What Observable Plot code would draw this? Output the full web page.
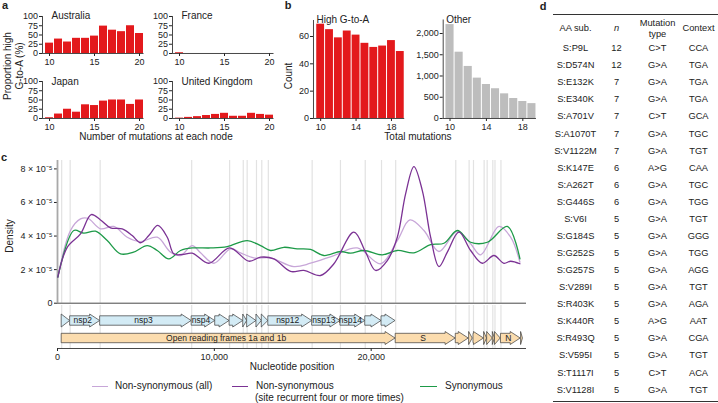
<!DOCTYPE html>
<html><head><meta charset="utf-8">
<script src="https://cdn.jsdelivr.net/npm/d3@7"></script>
<script src="https://cdn.jsdelivr.net/npm/@observablehq/plot@0.6"></script>
<style>
body{margin:0;background:#fff;}
#fig{position:relative;width:718px;height:403px;overflow:hidden;font-family:"Liberation Sans",Arial,sans-serif;color:#222;background:#fff;}
.lbl{position:absolute;width:0;height:0;}
.lbl>span{position:absolute;left:0;top:0;white-space:nowrap;line-height:1.15;text-align:center;transform:translate(-50%,-50%);}
.lbl.rot>span{transform:translate(-50%,-50%) rotate(-90deg);}
.lbl.start>span{transform:translate(0,-50%);text-align:left;}
.rule{position:absolute;height:0;border-top:1px solid #333;}
.sw{position:absolute;height:0;border-top:1.6px solid;}
</style>
</head><body><div id="fig"></div>
<script>
// ---------- data ----------
// panel a
const nodeMutations = [10,11,12,13,14,15,16,17,18,19,20];
const pctAustralia = [28,39,31,41,41,47,74,63,59,75,54];
const pctFrance = [2,0,0,0,0,0,0,0,0,0,0];
const pctJapan = [2,12,25,17,37,35,47,50,50,38,50];
const pctUK = [1,3,5,8,11,14,6,6,14,11,9];
// panel b
const totalMutations = [10,11,12,13,14,15,16,17,18,19];
const countHighGtoA = [69,65,59,64,61,55,52,53,57,49];
const countOther = [2210,1560,1225,950,800,700,580,470,400,350];
// panel c : density (units of 1e-5) along genome position (nt)
const genomeLength = 29903;
const densNonsynAll = [[20,1.55],[829,4.33],[1467,5.02],[1932,5.06],[2743,4.43],[3591,4.57],[4445,3.93],[5294,3.67],[6359,3.93],[7207,3.04],[7845,2.84],[8591,3.43],[9121,3.0],[9969,2.38],[11034,3.24],[11672,3.0],[12520,2.7],[13585,2.7],[15071,2.18],[16136,2.38],[17623,2.84],[19115,3.29],[20601,2.35],[21666,3.73],[22469,4.96],[23363,4.33],[24320,3.08],[25493,4.29],[26341,3.54],[26979,2.88],[28146,4.57],[28892,3.93],[29485,2.44]];
const densNonsynRecurrent = [[20,1.55],[619,3.33],[1467,4.13],[2149,5.28],[2743,4.96],[3380,4.49],[4127,4.43],[4764,4.03],[5294,3.6],[5823,4.03],[6397,4.63],[6997,3.93],[7418,2.94],[7953,2.9],[8591,2.98],[9650,2.38],[10970,3.3],[12201,2.5],[12947,2.74],[13795,2.64],[14861,1.89],[15709,1.95],[16774,1.65],[17623,2.35],[18898,4.23],[19644,3.04],[20282,1.95],[21028,2.54],[21666,3.93],[22195,6.51],[22725,8.14],[23261,6.71],[23790,3.93],[24320,2.18],[24855,3.04],[25595,4.23],[26341,3.14],[27087,2.38],[27827,2.84],[28465,2.38],[28892,2.5],[29485,2.35]];
const densSynonymous = [[20,1.55],[1040,4.33],[1677,4.17],[2424,4.29],[3170,3.73],[4018,2.94],[4847,3.04],[5721,3.43],[6359,3.14],[7099,2.64],[7845,3.14],[8591,3.29],[9758,3.29],[10823,3.37],[12099,3.73],[12947,3.43],[13585,3.14],[14434,3.33],[15288,3.24],[16136,3.2],[16985,2.84],[18050,3.08],[18688,2.98],[19536,3.14],[20709,2.88],[21666,3.14],[22725,3.0],[23790,3.49],[24639,3.57],[25493,4.33],[26341,3.63],[27406,3.63],[28682,4.57],[29485,2.64]];
const boundaryLines = [266,806,2720,8555,10973,11843,12092,12686,13025,13442,16237,18040,19621,20659,21563,25393,26245,26523,27202,27394,27756,27894,28274];
const nspStart = [266,806,2720,8555,10055,10973,11843,12092,12686,13025,13442,16237,18040,19621,20659];
const nspEnd   = [805,2719,8554,10054,10972,11842,12091,12685,13024,13441,16236,18039,19620,20658,21552];
const nspLabel = ["","nsp2","nsp3","nsp4","","","","","","","nsp12","nsp13","nsp14","",""];
const orfStart = [266,21563,25393,26245,26523,27202,27394,27756,27894,28274,29558];
const orfEnd   = [21555,25384,26220,26472,27191,27387,27759,27887,28259,29533,29674];
const orfLabel = ["Open reading frames 1a and 1b","S","","","","","","","","N",""];
// panel d
const tableCols = ["AA sub.","n","Mutation\ntype","Context"];
const aaSub = ["S:P9L","S:D574N","S:E132K","S:E340K","S:A701V","S:A1070T","S:V1122M","S:K147E","S:A262T","S:G446S","S:V6I","S:G184S","S:G252S","S:G257S","S:V289I","S:R403K","S:K440R","S:R493Q","S:V595I","S:T1117I","S:V1128I"];
const nRecurrent = [12,12,7,7,7,7,7,6,6,6,5,5,5,5,5,5,5,5,5,5,5];
const mutType = ["C>T","G>A","G>A","G>A","C>T","G>A","G>A","A>G","G>A","G>A","G>A","G>A","G>A","G>A","G>A","G>A","A>G","G>A","G>A","C>T","G>A"];
const seqContext = ["CCA","TGA","TGA","TGA","GCA","TGC","TGT","CAA","TGC","TGG","TGT","GGG","TGG","AGG","TGT","AGA","AAT","CGA","TGT","ACA","TGT"];

// ---------- helpers ----------
const fig = document.getElementById("fig");
const FONT = '"Liberation Sans", Arial, sans-serif';
const baseStyle = {fontFamily: FONT, fontSize: "9px", color: "#222", background: "none", overflow: "visible"};
function addAt(node, left, top) {
  node.style.position = "absolute"; node.style.left = left + "px"; node.style.top = top + "px";
  fig.appendChild(node);
}
function label(html, cx, cy, size = 10, cls = "", extra = "") {
  const d = document.createElement("div");
  d.className = "lbl " + cls; d.style.left = cx + "px"; d.style.top = cy + "px";
  d.innerHTML = `<span style="font-size:${size}px;${extra}">${html}</span>`;
  fig.appendChild(d);
}
const RED = "#e3191c", GREY = "#bdbdbd";

function barPanel({xs, ys, title, left, top, mL, mT, plotH, mB, xDomain, xStep, xTicks, yDomain, yTicks, yFormat, fill, titleDx, titleDy}) {
  const data = xs.map((x, i) => ({x, y: ys[i]}));
  const width = mL + (xDomain[1] - xDomain[0]) * xStep;
  const p = Plot.plot({
    width, height: mT + plotH + mB, marginLeft: mL, marginRight: 0, marginTop: mT, marginBottom: mB,
    style: baseStyle,
    x: {type: "linear", domain: xDomain, ticks: xTicks, tickSize: 3, tickPadding: 2, label: null},
    y: {domain: yDomain, ticks: yTicks, tickSize: 3, tickPadding: 1.5, label: null, tickFormat: yFormat},
    marks: [
      Plot.rect(data, {x1: d => d.x - 0.5, x2: d => d.x + 0.5, y1: 0, y2: "y", fill, insetLeft: 0.5, insetRight: 0.5}),
      Plot.ruleX([xDomain[0]], {stroke: "#333", strokeWidth: 0.9}),
      Plot.ruleY([0], {stroke: "#333", strokeWidth: 0.9}),
      Plot.text([title], {frameAnchor: "top-left", dx: titleDx, dy: titleDy, textAnchor: "start", fontSize: 10})
    ]
  });
  addAt(p, left, top);
}

// ---------- panel a ----------
const aCommon = {xs: nodeMutations, mL: 42, mT: 16, plotH: 37, mB: 14, xDomain: [9.22, 20.5], xStep: 9,
  xTicks: [10, 15, 20], yDomain: [0, 100], yTicks: [0, 25, 50, 75, 100], fill: RED, titleDx: 9, titleDy: -5};
barPanel({...aCommon, ys: pctAustralia, title: "Australia", left: 0, top: 0});
barPanel({...aCommon, ys: pctFrance, title: "France", left: 130, top: 0});
barPanel({...aCommon, ys: pctJapan, title: "Japan", left: 0, top: 64.5, titleDy: -4});
barPanel({...aCommon, ys: pctUK, title: "United Kingdom", left: 130, top: 64.5, titleDy: -4});
label("Proportion high<br>G-to-A (%)", 13, 66, 10, "rot");
label("Number of mutations at each node", 156, 137, 10);

// ---------- panel b ----------
barPanel({xs: totalMutations, ys: countHighGtoA, title: "High G-to-A", left: 280, top: 0, mL: 33, mT: 20, plotH: 98, mB: 14,
  xDomain: [9.19, 19.5], xStep: 8.85, xTicks: [10, 14, 18], yDomain: [0, 71.7], yTicks: [0, 20, 40, 60], fill: RED, titleDx: 3, titleDy: -5});
barPanel({xs: totalMutations, ys: countOther, title: "Other", left: 410, top: 0, mL: 32.7, mT: 19.5, plotH: 98.5, mB: 14,
  xDomain: [9.25, 19.5], xStep: 9.1, xTicks: [10, 14, 18], yDomain: [0, 2318], yTicks: [0, 500, 1000, 1500, 2000], yFormat: d3.format(","), fill: GREY, titleDx: 3, titleDy: -4.5});
label("Count", 289, 76, 10, "rot");
label("Total mutations", 418, 137, 10);

// ---------- panel c : density ----------
const LIGHT = "#c7a6d8", PURPLE = "#7b3294", GREEN = "#1d9a48";
const dens = Plot.plot({
  width: 526, height: 155, marginLeft: 57, marginRight: 0, marginTop: 10, marginBottom: 2.3,
  style: baseStyle,
  x: {domain: [0, genomeLength], axis: null},
  y: {domain: [0, 8.5], ticks: [0, 2, 4, 6, 8], tickFormat: d => d === 0 ? "0" : `${d} × 10⁻⁵`, tickSize: 3, tickPadding: 2, label: null},
  marks: [
    Plot.ruleX(boundaryLines, {stroke: "#e2e2e2", strokeWidth: 1.2}),
    Plot.ruleX([0], {stroke: "#a9a9a9", strokeWidth: 1.8}),
    Plot.ruleY([0], {stroke: "#333", strokeWidth: 0.9}),
    Plot.line(densNonsynAll, {x: d => d[0], y: d => d[1], stroke: LIGHT, strokeWidth: 1.3, curve: "catmull-rom"}),
    Plot.line(densSynonymous, {x: d => d[0], y: d => d[1], stroke: GREEN, strokeWidth: 1.3, curve: "catmull-rom"}),
    Plot.line(densNonsynRecurrent, {x: d => d[0], y: d => d[1], stroke: PURPLE, strokeWidth: 1.3, curve: "catmull-rom"})
  ]
});
addAt(dens, 0, 150);
label("Density", 10, 236, 10, "rot");

// ---------- panel c : genome map ----------
const geneRowDomain = [-0.886, 1.571];
const headW = 10, bodyH = 4.7, headH = 6.5;
function geneArrows(starts, ends, labels, row, fill) {
  return (index, scales) => {
    const X = scales.x, Y = scales.y;
    const g = d3.create("svg:g");
    const yc = Y(row);
    starts.forEach((s, i) => {
      const x1 = X(s), x2 = X(ends[i]);
      const len = x2 - x1, xb = x2 - Math.min(headW, len);
      const pts = len > headW
        ? [[x1, yc - bodyH], [xb, yc - bodyH], [xb, yc - headH], [x2, yc], [xb, yc + headH], [xb, yc + bodyH], [x1, yc + bodyH]]
        : [[x1, yc - headH], [x2, yc], [x1, yc + headH]];
      g.append("path").attr("d", "M" + pts.join("L") + "Z").attr("fill", fill).attr("stroke", "#3a3a3a").attr("stroke-width", 0.7);
      if (labels[i]) g.append("text").attr("x", (x1 + xb) / 2 + (len > headW ? 3 : 0)).attr("y", yc).attr("dy", "0.35em")
        .attr("text-anchor", "middle").attr("font-size", 8.5).attr("fill", "#222").text(labels[i]);
    });
    return g.node();
  };
}
const genes = Plot.plot({
  width: 526, height: 75, marginLeft: 57, marginRight: 0, marginTop: 0, marginBottom: 32,
  style: baseStyle,
  x: {domain: [0, genomeLength], ticks: [0, 10000, 20000], tickFormat: d3.format(","), tickSize: 3, tickPadding: 2, label: null},
  y: {domain: geneRowDomain, reverse: true, axis: null},
  marks: [
    Plot.ruleX(boundaryLines, {stroke: "#e2e2e2", strokeWidth: 1.2}),
    Plot.ruleY([geneRowDomain[1]], {stroke: "#333", strokeWidth: 0.9}),
    geneArrows(nspStart, nspEnd, nspLabel, 0, "#d3ebf5"),
    geneArrows(orfStart, orfEnd, orfLabel, 1, "#fbdcae"),
    Plot.text(["Nucleotide position"], {frameAnchor: "bottom", dy: 21, fontSize: 10})
  ]
});
addAt(genes, 0, 305);

// legend
function swatch(color, x1, x2, y) {
  const d = document.createElement("div"); d.className = "sw";
  d.style.left = x1 + "px"; d.style.width = (x2 - x1) + "px"; d.style.top = y + "px"; d.style.borderTopColor = color;
  fig.appendChild(d);
}
swatch(LIGHT, 92, 108, 386);
label("Non-synonymous (all)", 115, 386, 10, "start");
swatch(PURPLE, 232, 248, 386);
label("Non-synonymous", 256, 386, 10, "start");
label("(site recurrent four or more times)", 255, 398, 10, "start");
swatch(GREEN, 420, 437, 386);
label("Synonymous", 445, 386, 10, "start");

// ---------- panel d : table ----------
const headerRow = -1.21;
const rows = aaSub.map((a, i) => ({i, a, n: nRecurrent[i], t: mutType[i], c: seqContext[i]}));
const tbl = Plot.plot({
  width: 178, height: 403, margin: 0,
  style: baseStyle,
  x: {type: "point", domain: tableCols, range: [34, 159], padding: 0, axis: null},
  y: {type: "linear", domain: [0, 20], range: [47.7, 389.1], axis: null},
  marks: [
    Plot.text(tableCols.filter(c => c !== "n"), {x: d => d, y: () => headerRow, text: d => d, lineHeight: 1.18, fontSize: 9.3}),
    Plot.text(["n"], {x: d => d, y: () => headerRow, text: d => d, fontStyle: "italic", fontSize: 9.3}),
    Plot.text(rows, {x: () => tableCols[0], y: "i", text: "a", fontSize: 9.3}),
    Plot.text(rows, {x: () => tableCols[1], y: "i", text: "n", fontSize: 9.3}),
    Plot.text(rows, {x: () => tableCols[2], y: "i", text: "t", fontSize: 9.3}),
    Plot.text(rows, {x: () => tableCols[3], y: "i", text: "c", fontSize: 9.3})
  ]
});
addAt(tbl, 540, 0);
for (const y of [14, 401]) {
  const r = document.createElement("div"); r.className = "rule";
  r.style.left = "553px"; r.style.width = "170px"; r.style.top = y + "px";
  fig.appendChild(r);
}

// panel letters
label("a", 5, 5, 11, "", "font-weight:bold");
label("b", 288, 5, 11, "", "font-weight:bold");
label("c", 4, 157, 11, "", "font-weight:bold");
label("d", 543, 5.5, 11, "", "font-weight:bold");
</script>
</body></html>
